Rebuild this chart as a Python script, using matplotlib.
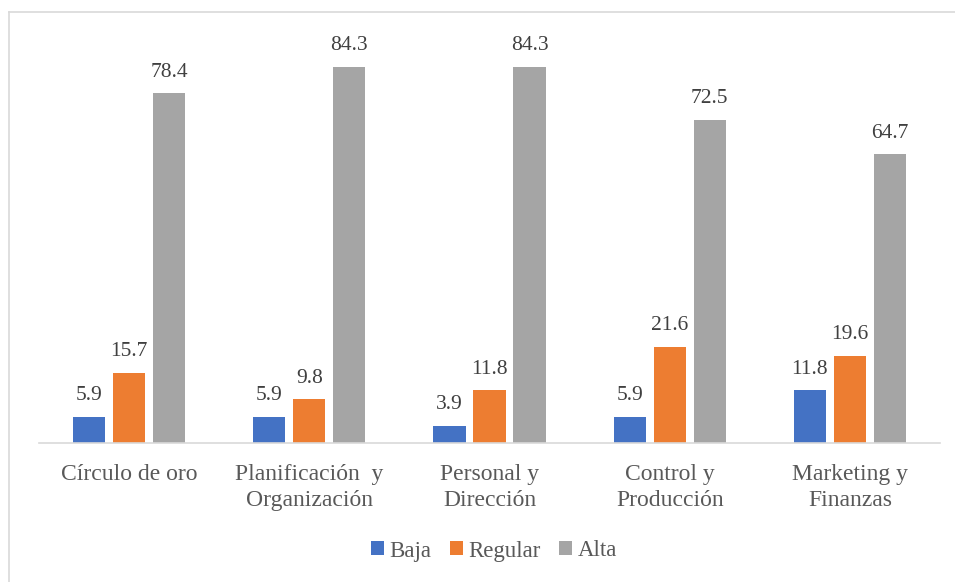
import matplotlib.pyplot as plt
import numpy as np
from matplotlib.lines import Line2D
from matplotlib import font_manager

categories = ["Círculo de oro", "Planificación  y\nOrganización", "Personal y\nDirección",
              "Control y\nProducción", "Marketing y\nFinanzas"]
series_names = ["Baja", "Regular", "Alta"]
baja = [5.9, 5.9, 3.9, 5.9, 11.8]
regular = [15.7, 9.8, 11.8, 21.6, 19.6]
alta = [78.4, 84.3, 84.3, 72.5, 64.7]
colors = ["#4472C4", "#ED7D31", "#A5A5A5"]

available = {f.name for f in font_manager.fontManager.ttflist}
serif = [f for f in ["Liberation Serif", "Times New Roman", "DejaVu Serif"] if f in available]
plt.rcParams['font.family'] = 'serif'
plt.rcParams['font.serif'] = serif

W, H = 955, 582
fig = plt.figure(figsize=(W / 100, H / 100), dpi=100)

# outer frame (top and left edges visible)
fig.add_artist(Line2D([9 / W, 9 / W], [0, 1 - 12 / H], color="#D9D9D9", lw=1.2))
fig.add_artist(Line2D([9 / W, 1], [1 - 12 / H, 1 - 12 / H], color="#D9D9D9", lw=1.2))

ymax = 90
base_px, top_px = 443, 443 - 90 * 376 / 84.3
ax = fig.add_axes([39 / W, 1 - base_px / H, (940 - 39) / W, (base_px - top_px) / H])

x = np.arange(len(categories))
width = 0.178
offset = 0.222
for i, (vals, name, c) in enumerate(zip([baja, regular, alta], series_names, colors)):
    pos = x + (i - 1) * offset
    ax.bar(pos, vals, width, color=c, label=name, zorder=2)
    for p, v in zip(pos, vals):
        ax.text(p, v + 2.6, f"{v:.1f}", ha="center", va="bottom", fontsize=15.5,
                color="#404040")

ax.set_xlim(-0.5, len(categories) - 0.5)
ax.set_ylim(0, ymax)
ax.set_yticks([])
ax.set_xticks(x)
ax.set_xticklabels(categories, fontsize=17, color="#595959", linespacing=1.32)
ax.tick_params(axis="x", length=0, pad=15)
for s in ["top", "right", "left"]:
    ax.spines[s].set_visible(False)
ax.spines["bottom"].set_color("#D9D9D9")
ax.spines["bottom"].set_linewidth(1.2)

leg = fig.legend(loc="center", bbox_to_anchor=(494 / W, 1 - 551 / H), ncol=3, frameon=False,
                 fontsize=16.5, handlelength=0.55, handleheight=0.55, handletextpad=0.25,
                 columnspacing=0.8)
for t in leg.get_texts():
    t.set_color("#595959")

fig.savefig("out.png", dpi=100)
